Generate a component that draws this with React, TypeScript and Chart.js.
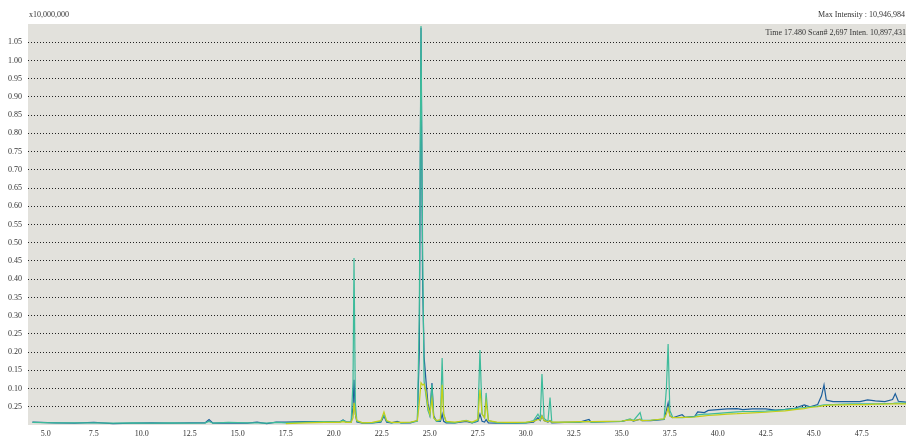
import React, { useEffect, useRef } from 'react';
import { Chart, registerables } from 'chart.js';

Chart.register(...registerables);

const times = [
  4.3, 5.5, 6.5, 7.5, 8.5, 9.5, 10.5, 11.5, 12.5, 13.3,
  13.5, 13.7, 14.5, 15.5, 16.0, 16.5, 17.0, 17.5, 18.5, 19.5,
  20.3, 20.48, 20.65, 20.9, 21.0, 21.05, 21.12, 21.2, 21.5, 22.0,
  22.45, 22.61, 22.75, 23.0, 23.3, 23.5, 24.0, 24.35, 24.45, 24.54,
  24.62, 24.7, 24.8, 24.9, 25.0, 25.11, 25.2, 25.35, 25.55, 25.64,
  25.72, 25.85, 26.3, 26.89, 27.2, 27.5, 27.61, 27.72, 27.85, 27.93,
  28.05, 28.5, 29.0, 29.5, 30.0, 30.4, 30.63, 30.75, 30.84, 30.95,
  31.15, 31.26, 31.35, 32.0, 32.8, 33.29, 33.4, 34.2, 35.0, 35.43,
  35.6, 35.95, 36.05, 36.5, 37.2, 37.32, 37.41, 37.5, 37.65, 38.14,
  38.3, 38.8, 38.95, 39.3, 39.5, 40.0, 40.5, 41.0, 41.3, 41.8,
  42.5, 43.0, 43.5, 44.0, 44.5, 44.8, 45.2, 45.4, 45.53, 45.65,
  46.0, 46.5, 47.0, 47.4, 47.8, 48.2, 48.7, 49.1, 49.24, 49.4,
  49.8,
];

const blueValues = [
  0.008, 0.006, 0.005, 0.007, 0.004, 0.005, 0.006, 0.005, 0.006, 0.006,
  0.015, 0.005, 0.006, 0.005, 0.008, 0.004, 0.008, 0.008, 0.009, 0.009,
  0.008, 0.014, 0.008, 0.008, 0.05, 0.124, 0.03, 0.008, 0.005, 0.006,
  0.008, 0.025, 0.008, 0.006, 0.01, 0.006, 0.006, 0.012, 0.2, 1.09,
  0.4, 0.187, 0.12, 0.06, 0.03, 0.115, 0.025, 0.01, 0.01, 0.03,
  0.01, 0.006, 0.006, 0.01, 0.006, 0.01, 0.03, 0.01, 0.008, 0.015,
  0.006, 0.005, 0.006, 0.005, 0.006, 0.008, 0.02, 0.012, 0.025, 0.012,
  0.008, 0.012, 0.006, 0.007, 0.008, 0.015, 0.008, 0.009, 0.01, 0.015,
  0.011, 0.016, 0.012, 0.012, 0.015, 0.04, 0.06, 0.025, 0.02, 0.028,
  0.021, 0.024, 0.036, 0.034, 0.04, 0.042, 0.044, 0.045, 0.042, 0.044,
  0.044, 0.041, 0.043, 0.046, 0.055, 0.05, 0.056, 0.08, 0.11, 0.068,
  0.064, 0.064, 0.064, 0.064, 0.069, 0.066, 0.064, 0.07, 0.086, 0.065,
  0.063,
];

const tealValues = [
  0.007, 0.006, 0.006, 0.006, 0.005, 0.006, 0.005, 0.006, 0.005, 0.006,
  0.01, 0.005, 0.007, 0.006, 0.006, 0.005, 0.007, 0.006, 0.008, 0.009,
  0.008, 0.013, 0.008, 0.008, 0.12, 0.458, 0.06, 0.01, 0.006, 0.006,
  0.01, 0.028, 0.01, 0.006, 0.007, 0.006, 0.007, 0.01, 0.3, 1.0947,
  0.5, 0.12, 0.08, 0.04, 0.025, 0.11, 0.02, 0.01, 0.012, 0.184,
  0.03, 0.008, 0.006, 0.013, 0.006, 0.012, 0.206, 0.03, 0.02, 0.088,
  0.012, 0.006, 0.006, 0.006, 0.006, 0.012, 0.03, 0.018, 0.14, 0.018,
  0.01, 0.075, 0.008, 0.007, 0.008, 0.01, 0.008, 0.009, 0.01, 0.017,
  0.012, 0.034, 0.013, 0.013, 0.016, 0.1, 0.222, 0.04, 0.021, 0.02,
  0.021, 0.023, 0.028, 0.03, 0.03, 0.032, 0.034, 0.036, 0.037, 0.037,
  0.038, 0.04, 0.042, 0.045, 0.048, 0.05, 0.052, 0.054, 0.055, 0.055,
  0.056, 0.057, 0.058, 0.058, 0.058, 0.058, 0.059, 0.059, 0.06, 0.06,
  0.06,
];

const yellowValues = [
  null, null, null, null, null, null, null, null, null, null,
  null, null, null, null, null, null, null, 0.004, 0.006, 0.007,
  0.007, 0.009, 0.007, 0.007, 0.02, 0.061, 0.03, 0.012, 0.006, 0.007,
  0.012, 0.036, 0.012, 0.007, 0.007, 0.007, 0.008, 0.012, 0.06, 0.116,
  0.11, 0.112, 0.09, 0.05, 0.03, 0.07, 0.02, 0.012, 0.015, 0.11,
  0.03, 0.01, 0.008, 0.012, 0.008, 0.015, 0.097, 0.03, 0.02, 0.064,
  0.012, 0.008, 0.007, 0.007, 0.008, 0.01, 0.015, 0.014, 0.025, 0.012,
  0.009, 0.012, 0.008, 0.008, 0.009, 0.009, 0.009, 0.01, 0.011, 0.014,
  0.012, 0.015, 0.012, 0.013, 0.017, 0.03, 0.047, 0.025, 0.02, 0.021,
  0.021, 0.022, 0.023, 0.025, 0.026, 0.028, 0.03, 0.031, 0.032, 0.033,
  0.035, 0.037, 0.039, 0.042, 0.045, 0.048, 0.05, 0.052, 0.053, 0.054,
  0.055, 0.055, 0.056, 0.056, 0.056, 0.057, 0.057, 0.058, 0.058, 0.058,
  0.058,
];

const xTickValues = [5, 7.5, 10, 12.5, 15, 17.5, 20, 22.5, 25, 27.5, 30, 32.5, 35, 37.5, 40, 42.5, 45, 47.5];
const xTickLabels = ['5.0', '7.5', '10.0', '12.5', '15.0', '17.5', '20.0', '22.5', '25.0', '27.5', '30.0', '32.5', '35.0', '37.5', '40.0', '42.5', '45.0', '47.5'];

const yTickValues = [0.05, 0.1, 0.15, 0.2, 0.25, 0.3, 0.35, 0.4, 0.45, 0.5, 0.55, 0.6, 0.65, 0.7, 0.75, 0.8, 0.85, 0.9, 0.95, 1.0, 1.05];
const yTickLabels = ['0.25', '0.10', '0.15', '0.20', '0.25', '0.30', '0.35', '0.40', '0.45', '0.50', '0.55', '0.60', '0.65', '0.70', '0.75', '0.80', '0.85', '0.90', '0.95', '1.00', '1.05'];

const unitLabel = 'x10,000,000';
const maxIntensityLabel = 'Max Intensity : 10,946,984';
const scanLabel = 'Time 17.480 Scan# 2,697 Inten. 10,897,431';

const FONT = '"Liberation Serif", "DejaVu Serif", serif';

const toPoints = (vals: (number | null)[]) => times.map((t, i) => ({ x: t, y: vals[i] }));

const decorPlugin = {
  id: 'decor',
  beforeDraw(chart: any) {
    const { ctx, chartArea } = chart;
    ctx.save();
    ctx.fillStyle = '#e2e1dc';
    ctx.fillRect(chartArea.left, chartArea.top, chartArea.right - chartArea.left, chartArea.bottom - chartArea.top);
    ctx.restore();
  },
  afterDraw(chart: any) {
    const { ctx, chartArea } = chart;
    ctx.save();
    ctx.font = `8px ${FONT}`;
    ctx.fillStyle = '#333';
    ctx.textBaseline = 'middle';
    ctx.textAlign = 'left';
    ctx.fillText(unitLabel, chartArea.left + 1, 15);
    ctx.textAlign = 'right';
    ctx.fillText(maxIntensityLabel, chart.width - 1, 15);
    ctx.fillText(scanLabel, chart.width, 33);
    ctx.restore();
  },
};

export default function App() {
  const ref = useRef<HTMLCanvasElement>(null);
  useEffect(() => {
    if (!ref.current) return;
    const chart = new Chart(ref.current, {
      type: 'line',
      data: {
        datasets: [
          { label: 'yellow', data: toPoints(yellowValues), borderColor: '#c3cf17', order: 0 },
          { label: 'teal', data: toPoints(tealValues), borderColor: '#3dbb9b', order: 1 },
          { label: 'blue', data: toPoints(blueValues), borderColor: '#1b5e9c', order: 2 },
        ] as any,
      },
      options: {
        animation: false,
        responsive: false,
        events: [],
        elements: {
          point: { radius: 0 },
          line: { borderWidth: 1.2, tension: 0 },
        },
        layout: { padding: { top: 24, left: 0, right: 0, bottom: 0 } },
        plugins: { legend: { display: false }, tooltip: { enabled: false } },
        scales: {
          x: {
            type: 'linear',
            min: 4.07,
            max: 49.8,
            border: { display: false },
            grid: { display: false, drawTicks: false },
            afterBuildTicks: (scale: any) => {
              scale.ticks = xTickValues.map((v) => ({ value: v }));
            },
            afterFit: (scale: any) => {
              scale.height = 11;
            },
            ticks: {
              autoSkip: false,
              maxRotation: 0,
              padding: 4,
              color: '#333',
              font: { family: FONT, size: 8 },
              callback: (_v: any, i: number) => xTickLabels[i],
            },
          },
          y: {
            type: 'linear',
            min: 0,
            max: 1.1,
            border: { display: false, dash: [1, 2] },
            grid: { color: '#222', lineWidth: 1, drawTicks: false },
            afterBuildTicks: (scale: any) => {
              scale.ticks = yTickValues.map((v) => ({ value: v }));
            },
            afterFit: (scale: any) => {
              scale.width = 28;
            },
            ticks: {
              autoSkip: false,
              padding: 6,
              color: '#333',
              font: { family: FONT, size: 8 },
              callback: (_v: any, i: number) => yTickLabels[i],
            },
          },
        },
      } as any,
      plugins: [decorPlugin],
    });
    return () => chart.destroy();
  }, []);
  return (
    <div style={{ position: 'fixed', left: 0, top: 0, width: 906, height: 436, background: '#fff' }}>
      <canvas ref={ref} width={906} height={436} style={{ display: 'block' }} />
    </div>
  );
}
